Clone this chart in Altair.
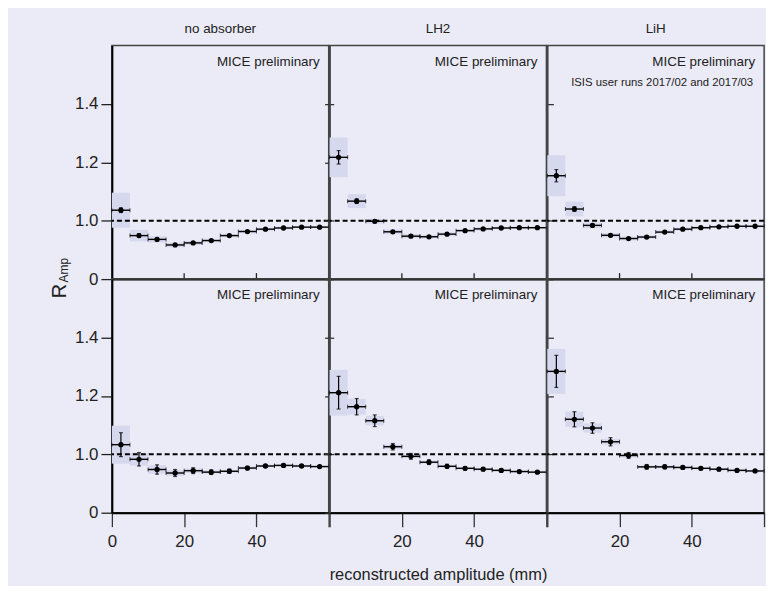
import altair as alt
import pandas as pd

# ---------------- data ----------------
bin_lo = [0, 5, 10, 15, 20, 25, 30, 35, 40, 45, 50, 55]
bin_hi = [5, 10, 15, 20, 25, 30, 35, 40, 45, 50, 55, 60]
bin_mid = [2.5, 7.5, 12.5, 17.5, 22.5, 27.5, 32.5, 37.5, 42.5, 47.5, 52.5, 57.5]

col_titles = ["no absorber", "LH2", "LiH"]

# top row
top_noabs = [1.036, 0.949, 0.936, 0.917, 0.924, 0.932, 0.949, 0.963, 0.971, 0.975, 0.978, 0.978]
top_noabs_stat = [0.008, 0.006, 0.004, 0.004, 0.003, 0.003, 0.003, 0.002, 0.002, 0.002, 0.002, 0.002]
top_noabs_sys = [0.060, 0.020, 0.011, 0.008, 0.007, 0.006, 0.006, 0.006, 0.005, 0.005, 0.004, 0.004]

top_lh2 = [1.217, 1.067, 0.998, 0.962, 0.947, 0.945, 0.954, 0.966, 0.972, 0.975, 0.976, 0.976]
top_lh2_stat = [0.023, 0.008, 0.005, 0.004, 0.003, 0.003, 0.003, 0.002, 0.002, 0.002, 0.002, 0.002]
top_lh2_sys = [0.068, 0.024, 0.008, 0.008, 0.007, 0.006, 0.006, 0.005, 0.005, 0.004, 0.004, 0.004]

top_lih = [1.154, 1.040, 0.984, 0.950, 0.939, 0.944, 0.961, 0.971, 0.976, 0.979, 0.981, 0.981]
top_lih_stat = [0.021, 0.008, 0.005, 0.004, 0.003, 0.003, 0.003, 0.002, 0.002, 0.002, 0.002, 0.002]
top_lih_sys = [0.070, 0.025, 0.010, 0.008, 0.007, 0.006, 0.006, 0.005, 0.005, 0.004, 0.004, 0.004]

# bottom row
bot_noabs = [1.033, 0.983, 0.948, 0.936, 0.944, 0.939, 0.942, 0.953, 0.960, 0.962, 0.960, 0.958]
bot_noabs_stat = [0.041, 0.023, 0.016, 0.012, 0.010, 0.008, 0.007, 0.006, 0.005, 0.005, 0.004, 0.004]
bot_noabs_sys = [0.065, 0.022, 0.015, 0.010, 0.008, 0.006, 0.005, 0.005, 0.004, 0.004, 0.004, 0.004]

bot_lh2 = [1.211, 1.163, 1.115, 1.026, 0.993, 0.973, 0.959, 0.952, 0.949, 0.945, 0.941, 0.939]
bot_lh2_stat = [0.056, 0.028, 0.020, 0.011, 0.010, 0.008, 0.007, 0.006, 0.005, 0.005, 0.004, 0.004]
bot_lh2_sys = [0.078, 0.027, 0.016, 0.008, 0.006, 0.005, 0.005, 0.004, 0.004, 0.004, 0.004, 0.004]

bot_lih = [1.284, 1.120, 1.090, 1.043, 0.996, 0.957, 0.957, 0.955, 0.952, 0.949, 0.945, 0.943]
bot_lih_stat = [0.055, 0.026, 0.018, 0.014, 0.010, 0.008, 0.007, 0.006, 0.005, 0.005, 0.004, 0.004]
bot_lih_sys = [0.077, 0.026, 0.016, 0.010, 0.007, 0.005, 0.005, 0.004, 0.004, 0.004, 0.004, 0.004]

y_ticks = [0.8, 1.0, 1.2, 1.4]
x_ticks = [0, 20, 40, 60]
inner_x_ticks = [20, 40]

# ---------------- style ----------------
FONT = "Liberation Sans"
BG = "#EBEBF7"
BOX = "#D6D8EE"
TXT = "#222222"
W, H = 218.1, 235

xs = alt.Scale(domain=[0, 60], nice=False, zero=False)
ys = alt.Scale(domain=[0.8, 1.6], nice=False, zero=False)


def panel(vals, stat, sys, row, col):
    df = pd.DataFrame({"lo": bin_lo, "hi": bin_hi, "mid": bin_mid, "r": vals})
    df["s_lo"] = [v - e for v, e in zip(vals, stat)]
    df["s_hi"] = [v + e for v, e in zip(vals, stat)]
    df["b_lo"] = [v - e for v, e in zip(vals, sys)]
    df["b_hi"] = [v + e for v, e in zip(vals, sys)]
    base = alt.Chart(df)

    if row == 0:
        xaxis = alt.Axis(labels=False, ticks=False, domain=True, domainColor="black",
                         domainWidth=2, grid=False, title=None)
    else:
        if col == 0:
            lexpr = "datum.value == 60 ? '' : datum.label"
        else:
            lexpr = "(datum.value == 0 || datum.value == 60) ? '' : datum.label"
        xaxis = alt.Axis(values=x_ticks, labelExpr=lexpr, tickSize=14, tickColor="#333",
                         tickWidth=1.3, domainColor="black", domainWidth=2,
                         labelFont=FONT, labelFontSize=17, labelColor=TXT,
                         labelPadding=7, labelFlush=False, grid=False,
                         title="reconstructed amplitude (mm)" if col == 1 else None,
                         titleFont=FONT, titleFontSize=16.5, titleFontWeight="normal",
                         titleColor=TXT, titlePadding=17)

    if col == 0:
        yaxis = alt.Axis(orient="left", values=y_ticks,
                         labelExpr="abs(datum.value - 0.8) < 0.001 ? '0' : format(datum.value, '.1f')",
                         tickSize=11, tickColor="#222", tickWidth=1.3, domainColor="black",
                         domainWidth=2, labelFont=FONT, labelFontSize=17, labelColor=TXT,
                         labelPadding=3, labelFlush=False, grid=False, title=None)
        raxis = alt.Axis(orient="right", values=y_ticks, labels=False, tickSize=5,
                         tickColor="#333", tickWidth=1.3, domain=False, grid=False, title=None)
    elif col == 1:
        yaxis = alt.Axis(orient="left", values=y_ticks, labels=False, tickSize=5,
                         tickColor="#333", tickWidth=1.3, domainColor="#444",
                         domainWidth=1.5, grid=False, title=None)
        raxis = alt.Axis(orient="right", values=y_ticks, labels=False, tickSize=7,
                         tickColor="#333", tickWidth=1.3, domain=False, grid=False, title=None)
    else:
        yaxis = alt.Axis(orient="left", labels=False, ticks=False, domainColor="#444",
                         domainWidth=1.5, grid=False, title=None)
        raxis = None

    layers = []
    layers.append(base.mark_rect(color=BOX).encode(
        x=alt.X("lo:Q", scale=xs, axis=xaxis), x2="hi:Q",
        y=alt.Y("b_lo:Q", scale=ys, axis=yaxis), y2="b_hi:Q"))
    one = pd.DataFrame({"one": [1.0]})
    layers.append(alt.Chart(one).mark_rule(strokeDash=[5, 3], strokeWidth=2, color="black").encode(
        y=alt.Y("one:Q", scale=ys, axis=raxis)))
    layers.append(base.mark_rule(color="black", strokeWidth=1.4).encode(
        x=alt.X("lo:Q", scale=xs, axis=xaxis), x2="hi:Q",
        y=alt.Y("r:Q", scale=ys, axis=None)))
    layers.append(base.mark_rule(color="black", strokeWidth=1.2).encode(
        x=alt.X("mid:Q", scale=xs, axis=xaxis),
        y=alt.Y("s_lo:Q", scale=ys, axis=None), y2="s_hi:Q"))
    for f in ["s_lo", "s_hi"]:
        layers.append(base.mark_tick(orient="horizontal", size=4, thickness=1.2, color="black").encode(
            x=alt.X("mid:Q", scale=xs, axis=xaxis),
            y=alt.Y(f + ":Q", scale=ys, axis=None)))
    for f in ["lo", "hi"]:
        layers.append(base.mark_tick(orient="vertical", size=4, thickness=1, color="black").encode(
            x=alt.X(f + ":Q", scale=xs, axis=xaxis),
            y=alt.Y("r:Q", scale=ys, axis=None)))
    layers.append(base.mark_circle(size=28, color="black", opacity=1).encode(
        x=alt.X("mid:Q", scale=xs, axis=xaxis),
        y=alt.Y("r:Q", scale=ys, axis=None)))
    if row == 0:
        tk = pd.DataFrame({"t": inner_x_ticks})
        layers.append(alt.Chart(tk).mark_rule(color="#222", strokeWidth=1.3).encode(
            x=alt.X("t:Q", scale=xs, axis=xaxis),
            y=alt.value(H - 6), y2=alt.value(H)))
    txt = pd.DataFrame({"t": ["MICE preliminary"]})
    layers.append(alt.Chart(txt).mark_text(align="right", baseline="middle", font=FONT,
                                           fontSize=13.5, color=TXT).encode(
        text="t:N", x=alt.value(W - 9), y=alt.value(16.5)))
    if row == 0 and col == 2:
        t2 = pd.DataFrame({"t": ["ISIS user runs 2017/02 and 2017/03"]})
        layers.append(alt.Chart(t2).mark_text(align="right", baseline="middle", font=FONT,
                                              fontSize=11.4, color=TXT).encode(
            text="t:N", x=alt.value(W - 11), y=alt.value(38)))
    if row == 0 and col == 0:
        rt = pd.DataFrame({"t": ["R"]})
        layers.append(alt.Chart(rt).mark_text(align="center", baseline="middle", angle=270,
                                              font=FONT, fontSize=20, color=TXT).encode(
            text="t:N", x=alt.value(-52), y=alt.value(247)))
        at = pd.DataFrame({"t": ["Amp"]})
        layers.append(alt.Chart(at).mark_text(align="center", baseline="middle", angle=270,
                                              font=FONT, fontSize=12, color=TXT).encode(
            text="t:N", x=alt.value(-48.5), y=alt.value(226)))

    ch = alt.layer(*layers).resolve_axis(y="independent").properties(width=W, height=H)
    if row == 0:
        ch = ch.properties(title=alt.TitleParams(col_titles[col], font=FONT, fontSize=13.5,
                                                 fontWeight="normal", color=TXT,
                                                 anchor="middle", offset=10))
    return ch


panels = [
    panel(top_noabs, top_noabs_stat, top_noabs_sys, 0, 0),
    panel(top_lh2, top_lh2_stat, top_lh2_sys, 0, 1),
    panel(top_lih, top_lih_stat, top_lih_sys, 0, 2),
    panel(bot_noabs, bot_noabs_stat, bot_noabs_sys, 1, 0),
    panel(bot_lh2, bot_lh2_stat, bot_lh2_sys, 1, 1),
    panel(bot_lih, bot_lih_stat, bot_lih_sys, 1, 2),
]

chart = alt.concat(*panels, columns=3, spacing=0, bounds="flush").configure_view(
    stroke="#444", strokeWidth=1.5
).properties(
    background=BG,
    padding={"left": 41.5, "top": 11, "right": 0, "bottom": 0},
)

chart.save("out.html", embed_options={"renderer": "svg", "actions": False})
